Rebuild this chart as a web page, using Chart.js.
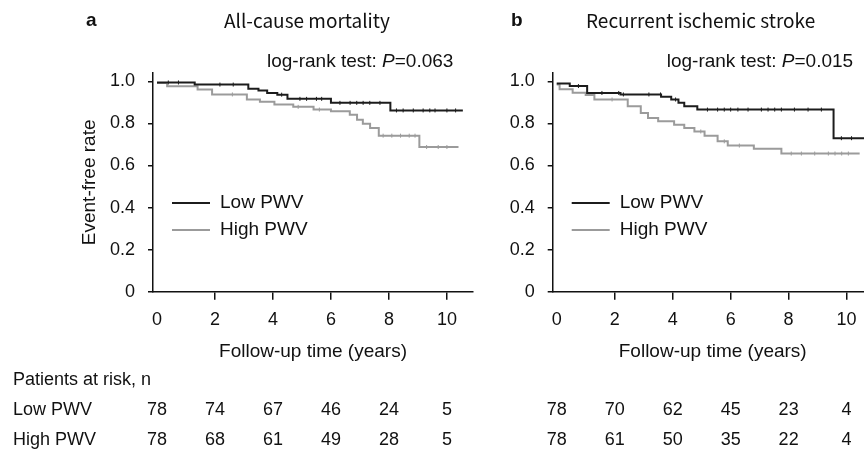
<!DOCTYPE html>
<html>
<head>
<meta charset="utf-8">
<script src="https://cdn.jsdelivr.net/npm/chart.js@4"></script>
<style>
html, body { margin: 0; padding: 0; background: #fff; overflow: hidden; width: 864px; height: 452px; }
#wrap { position: relative; width: 864px; height: 452px; overflow: hidden; }
canvas { position: absolute; top: 0; }
#cA { left: 0; }
#cB { left: 480px; }
.t { position: absolute; white-space: nowrap; color: #111; }
.lab { font: bold 19px "Liberation Sans", Arial, sans-serif; top: 9px; }
.ttl { font: 19px "Noto Sans CJK JP", sans-serif; top: 6px; }
</style>
</head>
<body>
<div id="wrap">
  <canvas id="cA" width="500" height="452"></canvas>
  <canvas id="cB" width="420" height="452"></canvas>
  <div class="t lab" style="left:86px">a</div>
  <div class="t ttl" style="left:224px">All-cause mortality</div>
  <div class="t lab" style="left:511px">b</div>
  <div class="t ttl" style="left:586px">Recurrent ischemic stroke</div>
</div>
<script>
const xTicks = [0, 2, 4, 6, 8, 10];
const yTicks = [0, 0.2, 0.4, 0.6, 0.8, 1.0];
const groups = ["Low PWV", "High PWV"];

// a: all-cause mortality (Kaplan-Meier steps)
const aLowTime  = [0, 1.3, 3.15, 3.5, 3.8, 4.15, 4.5, 6.0, 8.05, 10.55];
const aLowRate  = [0.995, 0.985, 0.965, 0.957, 0.945, 0.937, 0.917, 0.898, 0.862, 0.862];
const aHighTime = [0, 0.35, 1.4, 1.9, 3.1, 3.55, 4.05, 4.7, 5.4, 6.0, 6.65, 6.9, 7.1, 7.35, 7.65, 9.05, 10.4];
const aHighRate = [0.993, 0.977, 0.962, 0.938, 0.914, 0.903, 0.89, 0.879, 0.866, 0.858, 0.842, 0.818, 0.799, 0.779, 0.742, 0.688, 0.688];
const aLowCensor  = [0.39, 0.74, 2.17, 2.63, 4.3, 4.93, 5.16, 5.5, 5.68, 6.31, 6.66, 6.89, 7.11, 7.34, 7.69, 8.26, 8.49, 8.84, 9.18, 9.41, 9.59, 10.0, 10.3];
const aHighCensor = [2.6, 4.87, 5.6, 7.8, 8.1, 8.4, 8.7, 8.9, 9.3, 9.7, 10.0];
const aRiskLow  = [78, 74, 67, 46, 24, 5];
const aRiskHigh = [78, 68, 61, 49, 28, 5];

// b: recurrent ischemic stroke
const bLowTime  = [0, 0.45, 1.05, 2.2, 3.6, 3.95, 4.2, 4.4, 4.85, 9.55, 11.0];
const bLowRate  = [0.99, 0.978, 0.945, 0.938, 0.927, 0.914, 0.898, 0.882, 0.866, 0.73, 0.73];
const bHighTime = [0, 0.1, 0.55, 1.0, 1.3, 2.45, 2.9, 3.15, 3.5, 4.05, 4.4, 4.75, 5.1, 5.55, 5.9, 6.8, 7.75, 10.45];
const bHighRate = [0.985, 0.963, 0.946, 0.935, 0.914, 0.882, 0.85, 0.826, 0.81, 0.794, 0.778, 0.762, 0.742, 0.715, 0.695, 0.68, 0.657, 0.657];
const bLowCensor  = [0.75, 1.56, 2.14, 2.3, 3.18, 3.58, 4.1, 5.2, 5.55, 5.78, 6.0, 6.25, 6.6, 7.06, 7.29, 7.52, 7.75, 8.2, 8.67, 9.13, 9.82, 10.17];
const bHighCensor = [1.91, 4.97, 5.78, 6.3, 8.09, 8.44, 8.9, 9.37, 9.6, 9.83, 10.06];
const bRiskLow  = [78, 70, 62, 45, 23, 4];
const bRiskHigh = [78, 61, 50, 35, 22, 4];

const FONT = '"Liberation Sans", Arial, sans-serif';
const LOW_COLOR = "#1c1c1c";
const HIGH_COLOR = "#9b9b9b";
Chart.defaults.font.family = FONT;
Chart.defaults.color = "#111";

function toPoints(times, rates) {
    return times.map((t, i) => ({ x: t, y: rates[i] }));
}

// censor ticks sit on the step curve at their time
function censorPoints(censor, times, rates) {
    return censor.map(t => {
        let k = 0;
        while (k + 1 < times.length && times[k + 1] <= t) k++;
        return { x: t, y: rates[k] };
    });
}

// log-rank text, legend and numbers at risk
const kmExtras = {
    id: "kmExtras",
    afterDraw(chart, args, opts) {
        const { ctx, chartArea: area, scales: { x } } = chart;
        ctx.save();
        ctx.fillStyle = "#111";

        // log-rank test
        ctx.textAlign = "left";
        ctx.textBaseline = "alphabetic";
        let tx = area.left + 114;
        const pre = "log-rank test: ";
        ctx.font = "19px " + FONT;
        ctx.fillText(pre, tx, 67);
        tx += ctx.measureText(pre).width;
        ctx.font = "italic 19px " + FONT;
        ctx.fillText("P", tx, 67);
        tx += ctx.measureText("P").width;
        ctx.font = "19px " + FONT;
        ctx.fillText("=" + opts.p, tx, 67);

        // legend inside the plot
        ctx.textBaseline = "middle";
        chart.data.datasets.slice(0, 2).forEach((ds, i) => {
            const y = 203 + i * 27;
            ctx.strokeStyle = ds.borderColor;
            ctx.lineWidth = 2;
            ctx.beginPath();
            ctx.moveTo(area.left + 19, y);
            ctx.lineTo(area.left + 57, y);
            ctx.stroke();
            ctx.fillText(ds.label, area.left + 67, y);
        });

        // patients at risk
        ctx.font = "18px " + FONT;
        if (opts.rowLabels) {
            ctx.textAlign = "left";
            ctx.fillText("Patients at risk, n", 13, 380);
            groups.forEach((g, r) => ctx.fillText(g, 13, 410 + r * 30));
        }
        ctx.textAlign = "center";
        opts.risk.forEach((row, r) => {
            row.forEach((n, k) => {
                ctx.fillText(String(n), x.getPixelForValue(xTicks[k]), 410 + r * 30);
            });
        });
        ctx.restore();
    }
};

function curve(label, pts, color) {
    return { label, data: pts, borderColor: color, borderWidth: 2, stepped: true, pointRadius: 0, fill: false };
}

function censorSet(pts, color) {
    return {
        label: "censored",
        data: pts,
        showLine: false,
        pointStyle: "line",
        rotation: 90,
        pointRadius: 2,
        borderColor: color,
        pointBorderColor: color,
        pointBorderWidth: 1
    };
}

function makeChart(id, lowT, lowR, highT, highR, lowC, highC, extra) {
    return new Chart(document.getElementById(id), {
        type: "line",
        data: {
            datasets: [
                curve(groups[0], toPoints(lowT, lowR), LOW_COLOR),
                curve(groups[1], toPoints(highT, highR), HIGH_COLOR),
                censorSet(censorPoints(lowC, lowT, lowR), LOW_COLOR),
                censorSet(censorPoints(highC, highT, highR), HIGH_COLOR)
            ]
        },
        options: {
            responsive: false,
            animation: false,
            devicePixelRatio: 1,
            layout: { padding: { left: extra.padLeft, right: extra.padRight, top: 73, bottom: 88.5 } },
            plugins: {
                legend: { display: false },
                tooltip: { enabled: false },
                kmExtras: extra
            },
            scales: {
                x: {
                    type: "linear",
                    min: -0.138,
                    max: 10.9,
                    afterBuildTicks: s => { s.ticks = xTicks.map(v => ({ value: v })); },
                    afterFit: s => { s.height = 71.8; },
                    grid: {
                        drawOnChartArea: false,
                        tickLength: 8,
                        lineWidth: 1.5,
                        color: c => (c.tick && c.tick.value === 0 ? "rgba(0,0,0,0)" : "#111")
                    },
                    border: { color: "#111", width: 1.5 },
                    ticks: { font: { size: 18 }, padding: 9.5, maxRotation: 0, color: "#111" },
                    title: {
                        display: true,
                        text: "Follow-up time (years)",
                        font: { size: 19 },
                        padding: { top: 0, bottom: 0 },
                        color: "#111"
                    }
                },
                y: {
                    min: 0,
                    max: 1.04,
                    afterBuildTicks: s => { s.ticks = yTicks.map(v => ({ value: v })); },
                    afterFit: s => { s.width = extra.yWidth; },
                    grid: { drawOnChartArea: false, tickLength: 5, lineWidth: 1.5, color: "#111" },
                    border: { color: "#111", width: 1.5 },
                    ticks: {
                        font: { size: 18 },
                        padding: 13,
                        color: "#111",
                        callback: v => (v === 0 ? "0" : v.toFixed(1))
                    },
                    title: {
                        display: extra.yTitle,
                        text: "Event-free rate",
                        font: { size: 19 },
                        padding: { top: 0, bottom: 0 },
                        color: "#111"
                    }
                }
            }
        },
        plugins: [kmExtras]
    });
}

makeChart("cA", aLowTime, aLowRate, aHighTime, aHighRate, aLowCensor, aHighCensor,
    { p: "0.063", risk: [aRiskLow, aRiskHigh], rowLabels: true, yTitle: true, padLeft: 78.6, yWidth: 74.4, padRight: 27 });
makeChart("cB", bLowTime, bLowRate, bHighTime, bHighRate, bLowCensor, bHighCensor,
    { p: "0.015", risk: [bRiskLow, bRiskHigh], rowLabels: false, yTitle: false, padLeft: 22.7, yWidth: 50, padRight: 27.3 });
</script>
</body>
</html>
